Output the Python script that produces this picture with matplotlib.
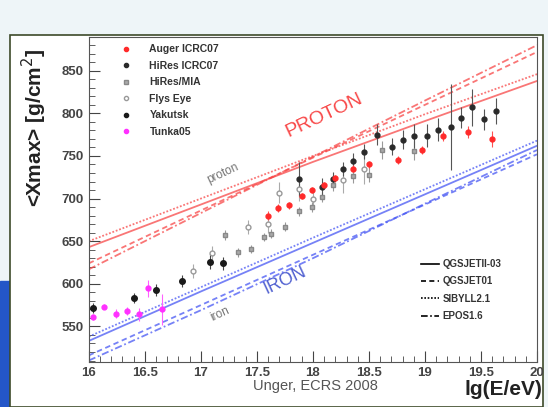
import matplotlib
matplotlib.use("Agg")
import matplotlib.pyplot as plt
from matplotlib.patches import Rectangle
from matplotlib.lines import Line2D

plt.rcParams['font.family'] = ['Liberation Sans', 'DejaVu Sans']

# model predictions, lg(E/eV) grid
lgE_model = [16, 17, 18, 19, 20]
p_qgsjetII = [643, 693, 743, 791, 838]
p_qgsjet01 = [624, 686, 748, 810, 872]
p_sibyll = [650, 700, 750, 799, 846]
p_epos = [617, 683, 749, 815, 880]
fe_qgsjetII = [533, 591, 648, 705, 762]
fe_qgsjet01 = [516, 575, 634, 693, 752]
fe_sibyll = [538, 596, 654, 711, 768]
fe_epos = [510, 569, 630, 694, 757]

# data
auger_x = [17.6, 17.69, 17.79, 17.9, 17.99, 18.1, 18.2, 18.36, 18.5, 18.76, 18.97, 19.16, 19.38, 19.6]
auger_y = [680, 689, 692, 703, 710, 716, 724, 735, 740, 745, 757, 773, 778, 770]
auger_e = [5, 5, 4, 4, 4, 4, 4, 4, 4, 5, 5, 6, 7, 9]

hires_x = [17.88, 18.08, 18.18, 18.27, 18.36, 18.46, 18.57, 18.71, 18.8, 18.9, 19.02, 19.12, 19.23, 19.32, 19.42, 19.53, 19.63]
hires_y = [723, 714, 723, 735, 744, 755, 775, 761, 769, 773, 774, 781, 784, 795, 807, 793, 803]
hires_e = [20, 10, 8, 8, 9, 9, 12, 10, 11, 14, 14, 14, 50, 12, 22, 12, 15]

mia_x = [17.22, 17.33, 17.45, 17.56, 17.63, 17.75, 17.88, 17.99, 18.08, 18.18, 18.36, 18.5, 18.62, 18.9]
mia_y = [657, 637, 641, 655, 659, 667, 685, 690, 702, 716, 726, 728, 757, 756]
mia_e = [6, 5, 5, 5, 5, 5, 5, 6, 6, 7, 8, 9, 10, 11]

fly_x = [16.93, 17.1, 17.42, 17.6, 17.7, 17.88, 18.0, 18.27, 18.46]
fly_y = [615, 636, 667, 670, 707, 711, 700, 722, 735]
fly_e = [8, 8, 8, 10, 12, 14, 12, 15, 18]

yak_x = [16.04, 16.4, 16.6, 16.83, 17.08, 17.2]
yak_y = [572, 583, 593, 603, 626, 624]
yak_e = [6, 6, 7, 7, 9, 8]

tunka_x = [16.04, 16.14, 16.24, 16.34, 16.45, 16.53, 16.65]
tunka_y = [561, 573, 565, 568, 564, 595, 570]
tunka_e = [4, 3, 5, 5, 8, 10, 18]

fig = plt.figure(figsize=(5.48, 4.07), dpi=100)
fig.patch.set_facecolor('#eef5f8')
fig.patches.append(Rectangle((0.0, 0.0), 0.022, 0.31, transform=fig.transFigure,
                             color='#2456c8', zorder=-10))
fig.patches.append(Rectangle((0.018, 0.0), 0.972, 0.915, transform=fig.transFigure,
                             facecolor='white', edgecolor='#3d4a2a', lw=1.2, zorder=-5))

ax = fig.add_axes([0.162, 0.11, 0.818, 0.80])
ax.set_zorder(2)
ax.set_xlim(16, 20)
ax.set_ylim(508, 890)

red = '#f84848'
blue = '#4858f4'
styles = [('-', p_qgsjetII, fe_qgsjetII), ((0, (3, 2)), p_qgsjet01, fe_qgsjet01),
          ((0, (1, 1)), p_sibyll, fe_sibyll), ((0, (4, 1.5, 1, 1.5)), p_epos, fe_epos)]
for ls, p, fe in styles:
    ax.plot(lgE_model, p, color=red, ls=ls, lw=1.3, alpha=0.75)
    ax.plot(lgE_model, fe, color=blue, ls=ls, lw=1.3, alpha=0.75)

ekw = dict(ls='none', elinewidth=0.8, capsize=0)
ax.errorbar(fly_x, fly_y, yerr=fly_e, marker='o', ms=3.5, mfc='white', mec='#999999', ecolor='#aaaaaa', **ekw)
ax.errorbar(mia_x, mia_y, yerr=mia_e, marker='s', ms=3.5, mfc='#aaaaaa', mec='#888888', ecolor='#999999', **ekw)
ax.errorbar(yak_x, yak_y, yerr=yak_e, marker='o', ms=4, color='#1a1a1a', ecolor='#444444', **ekw)
ax.errorbar(hires_x, hires_y, yerr=hires_e, marker='o', ms=3.5, color='#2a2a2a', ecolor='#555555', **ekw)
ax.errorbar(auger_x, auger_y, yerr=auger_e, marker='o', ms=3.5, color='#ff2a2a', ecolor='#ff5050', **ekw)
ax.errorbar(tunka_x, tunka_y, yerr=tunka_e, marker='o', ms=3.5, color='#ff30ff', ecolor='#ff60ff', **ekw)

ax.text(18.1, 798, 'PROTON', color=red, fontsize=14, rotation=25, ha='center', va='center')
ax.text(17.75, 604, 'IRON', color='#5060d0', fontsize=13, rotation=25, ha='center', va='center')
ax.text(17.2, 729, 'proton', color='#777777', fontsize=8.5, rotation=25, ha='center', va='center')
ax.text(17.17, 564, 'iron', color='#777777', fontsize=8.5, rotation=25, ha='center', va='center')

leg1 = ax.legend(handles=[
    Line2D([], [], ls='none', marker='o', ms=3, color='#ff2a2a'),
    Line2D([], [], ls='none', marker='o', ms=3, color='#2a2a2a'),
    Line2D([], [], ls='none', marker='s', ms=3, mfc='#aaaaaa', mec='#888888'),
    Line2D([], [], ls='none', marker='o', ms=3, mfc='white', mec='#999999'),
    Line2D([], [], ls='none', marker='o', ms=3, color='#1a1a1a'),
    Line2D([], [], ls='none', marker='o', ms=3, color='#ff30ff')],
    labels=['Auger ICRC07', 'HiRes ICRC07', 'HiRes/MIA', 'Flys Eye', 'Yakutsk', 'Tunka05'],
    loc='upper left', bbox_to_anchor=(0.04, 1.005), frameon=False,
    prop={'size': 7.5, 'weight': 'bold'}, handletextpad=1.2, labelspacing=0.62,
    labelcolor='#333333')
ax.add_artist(leg1)
ax.legend(handles=[Line2D([], [], color='k', ls=s[0], lw=1.2) for s in styles],
          labels=['QGSJETII-03', 'QGSJET01', 'SIBYLL2.1', 'EPOS1.6'],
          loc='lower right', bbox_to_anchor=(0.94, 0.1), frameon=False,
          prop={'size': 7, 'weight': 'bold'}, handlelength=1.8, labelspacing=0.75,
          handletextpad=0.4, labelcolor='#333333')

ax.set_xticks([16, 16.5, 17, 17.5, 18, 18.5, 19, 19.5, 20])
ax.set_xticklabels(['16', '16.5', '17', '17.5', '18', '18.5', '19', '19.5', '20'])
ax.set_yticks([550, 600, 650, 700, 750, 800, 850])
ax.set_xticks([16 + 0.1 * i for i in range(41)], minor=True)
ax.set_yticks(list(range(510, 890, 10)), minor=True)
ax.tick_params(which='both', direction='in', top=False, right=False, labelsize=9.5, colors='#444444')
ax.tick_params(which='major', length=8)
ax.tick_params(which='minor', length=4)
for lab in ax.get_xticklabels() + ax.get_yticklabels():
    lab.set_fontweight('bold')
for s in ax.spines.values():
    s.set_color('#555555')

ax.set_ylabel('<Xmax> [g/cm$^2$]', fontsize=15, fontweight='bold', color='#222222')
ax.yaxis.set_label_coords(-0.088, 0.72)
fig.text(0.99, 0.02, 'lg(E/eV)', fontsize=15, fontweight='bold', ha='right', va='bottom', color='#222222')
fig.text(0.575, 0.035, 'Unger, ECRS 2008', fontsize=10.5, ha='center', va='bottom', color='#555555')

fig.savefig('out.png', dpi=100, facecolor=fig.get_facecolor())
